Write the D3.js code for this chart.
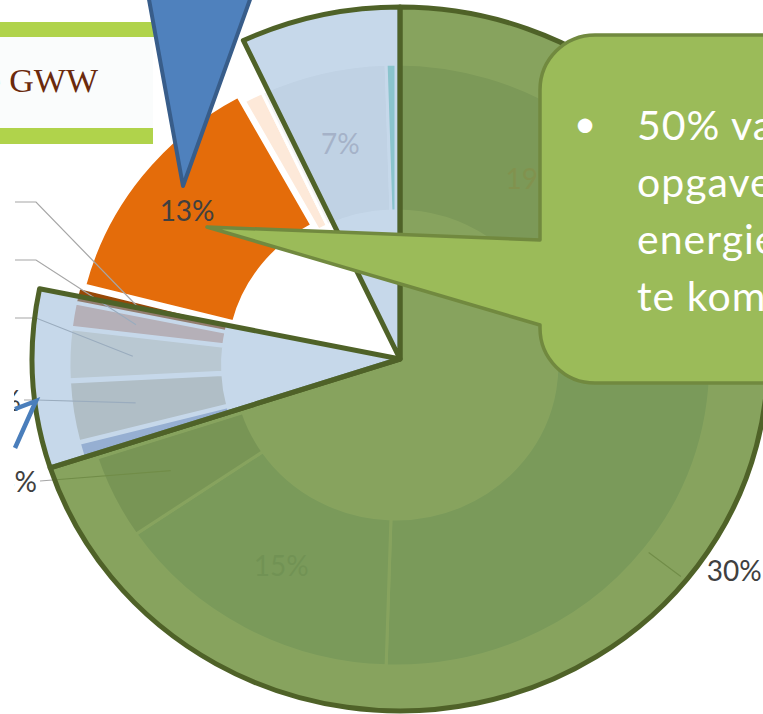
<!DOCTYPE html>
<html>
<head>
<meta charset="utf-8">
<script src="https://cdn.jsdelivr.net/npm/d3@7"></script>
<style>
  body { margin: 0; background: #fff; }
  svg { display: block; }
</style>
</head>
<body>
<div id="app"></div>
<script>
const WIDTH = 763, HEIGHT = 714;

// pie slices, clockwise from 12 o'clock
const sliceNames  = ['A', 'B', 'C', 'D', 'E', 'F', 'G', 'H', 'I', 'J', 'K', 'L', 'M', 'N'];
const sliceValues = [19.5, 1, 30, 15, 4.5, 1, 3.2, 2.7, 1.3, 0.8, 13, 1, 6.5, 0.5];
const sliceLabels = ['19%', '', '30%', '15%', '4%', '', '3%', '3%', '1%', '1%', '13%', '', '7%', ''];
const labelKind   = ['in', '', 'right', 'in', 'left', '', 'left', 'left', 'left', 'left', 'in', '', 'in', ''];

// highlighted parts of the pie (first slice, last slice)
const highlightFrom = ['A', 'F', 'M'];
const highlightTo   = ['E', 'I', 'N'];

const titleText = 'Energie in de GWW';
const calloutLines = ['50% van de', 'opgaven', 'energie', 'te komen'];

// styling
const sliceColors = ['#d3d6e6', '#d8e4bc', '#c9dbf0', '#c9dbf0', '#c4c8dc', '#9fadcf', '#d3cbb7',
                     '#e5dfcf', '#ddaf9b', '#984807', '#e46c0a', '#fde9d9', '#f2f2f2', '#86d6c4'];
const labelColors = ['#e6bcc0', '', '#404040', '#a9bcd6', '#404040', '', '#404040',
                     '#404040', '#404040', '#404040', '#404040', '', '#bdb3bb', ''];
const explode = { F: 12, G: 12, H: 12, I: 12, J: 12, K: 8 };
const leftLabelY   = { E: 481, G: 400, H: 318, I: 260, J: 202 };
const leftLabelEnd = { E: 37, G: 21, H: 12, I: 12, J: 12 };
const highlightFill    = ['#5f8428', '#8db1d5', '#8db1d5'];
const highlightOpacity = [0.75, 0.5, 0.5];

const SX = 1.045;                                   // the slide is stretched sideways
const ring = { cx: 396, cy: 365, r0: 154, r1: 301 };
const hl = { cx: 400, cy: 359, r: 352 };

const svg = d3.select('#app')
  .append('svg')
    .attr('width', WIDTH)
    .attr('height', HEIGHT)
    .style('font-family', 'Lato, "Open Sans", sans-serif');

// point at angle a, radius r, relative to a centre
const pt = (a, r) => [Math.sin(a) * r * SX, -Math.cos(a) * r];
const mid = d => (d.startAngle + d.endAngle) / 2;

// title box
svg.append('rect').attr('x', 0).attr('y', 37).attr('width', 153).attr('height', 91).attr('fill', '#fafcfc');
svg.append('rect').attr('x', 0).attr('y', 22).attr('width', 162).attr('height', 15).attr('fill', '#b0d34b');
svg.append('rect').attr('x', 0).attr('y', 128).attr('width', 153).attr('height', 16).attr('fill', '#b0d34b');
svg.append('text')
  .attr('x', 98).attr('y', 92)
  .attr('text-anchor', 'end')
  .style('font-family', '"Liberation Serif", serif')
  .style('font-size', '34px')
  .attr('fill', '#6b2a0c')
  .text(titleText);

const arcs = d3.pie().sort(null).value(d => d)(sliceValues);
arcs.forEach((d, i) => { d.name = sliceNames[i]; d.i = i; });

const arc = d3.arc().innerRadius(ring.r0).outerRadius(ring.r1);
const offset = d => {
  const e = explode[d.name] || 0;
  return [Math.sin(mid(d)) * e * SX, -Math.cos(mid(d)) * e];
};

// the doughnut
svg.append('g')
    .attr('transform', `translate(${ring.cx},${ring.cy}) scale(${SX},1)`)
  .selectAll('path')
  .data(arcs)
  .enter()
    .append('path')
    .attr('d', arc)
    .attr('transform', d => `translate(${(explode[d.name] || 0) * Math.sin(mid(d))},${-(explode[d.name] || 0) * Math.cos(mid(d))})`)
    .attr('fill', d => sliceColors[d.i])
    .attr('stroke', '#fff')
    .attr('stroke-width', 3)
    .attr('vector-effect', 'non-scaling-stroke');

// leader lines and outside labels on the left
arcs.filter(d => labelKind[d.i] === 'left').forEach(d => {
  const o = offset(d);
  const p = pt(mid(d), 240);
  const sx = ring.cx + p[0] + o[0], sy = ring.cy + p[1] + o[1];
  const y = leftLabelY[d.name], end = leftLabelEnd[d.name];
  const elbow = Math.max(36, end + 3);
  svg.append('polyline')
    .attr('points', [[end + 3, y], [elbow, y], [sx, sy]].map(q => q.join(',')).join(' '))
    .attr('fill', 'none')
    .attr('stroke', '#a6a6a6')
    .attr('stroke-width', 1.2);
  svg.append('text')
    .attr('x', end).attr('y', y)
    .attr('text-anchor', 'end')
    .attr('dominant-baseline', 'central')
    .style('font-size', '28px')
    .attr('fill', labelColors[d.i])
    .text(sliceLabels[d.i]);
});

// leader line and label on the right
arcs.filter(d => labelKind[d.i] === 'right').forEach(d => {
  const a = pt(mid(d), 306), b = pt(mid(d), 345);
  svg.append('line')
    .attr('x1', ring.cx + a[0]).attr('y1', ring.cy + a[1])
    .attr('x2', ring.cx + b[0]).attr('y2', ring.cy + b[1])
    .attr('stroke', '#a6a6a6')
    .attr('stroke-width', 1.2);
  svg.append('text')
    .attr('x', ring.cx + b[0] + 26).attr('y', ring.cy + b[1] - 6)
    .attr('dominant-baseline', 'central')
    .style('font-size', '28px')
    .attr('fill', labelColors[d.i])
    .text(sliceLabels[d.i]);
});

// labels inside the slices
const labelR = d => d.name === 'K' ? 245 : 228;
svg.selectAll('.inlabel')
  .data(arcs.filter(d => labelKind[d.i] === 'in'))
  .enter()
    .append('text')
    .attr('class', 'inlabel')
    .attr('x', d => ring.cx + pt(mid(d), labelR(d))[0] + offset(d)[0])
    .attr('y', d => ring.cy + pt(mid(d), labelR(d))[1] + offset(d)[1])
    .attr('text-anchor', 'middle')
    .attr('dominant-baseline', 'central')
    .style('font-size', '28px')
    .attr('fill', d => labelColors[d.i])
    .text(d => sliceLabels[d.i]);

// highlighted sectors on top of the doughnut
const hlArc = d3.arc().innerRadius(0).outerRadius(hl.r);
const byName = Object.fromEntries(arcs.map(d => [d.name, d]));
const sectors = highlightFrom.map((f, i) => ({
  startAngle: byName[f].startAngle,
  endAngle: byName[highlightTo[i]].endAngle,
  i
}));

svg.append('g')
    .attr('transform', `translate(${hl.cx},${hl.cy}) scale(${SX},1)`)
  .selectAll('path')
  .data(sectors)
  .enter()
    .append('path')
    .attr('d', hlArc)
    .attr('fill', d => highlightFill[d.i])
    .attr('fill-opacity', d => highlightOpacity[d.i])
    .attr('stroke', '#4f6228')
    .attr('stroke-width', 5)
    .attr('stroke-linejoin', 'round')
    .attr('vector-effect', 'non-scaling-stroke');

// white box that cuts off the labels on the left
svg.append('rect').attr('x', 0).attr('y', 150).attr('width', 14).attr('height', HEIGHT - 150).attr('fill', '#fff');

// small blue arrow
svg.append('polyline')
  .attr('points', '15,409 36,401 15,448')
  .attr('fill', 'none')
  .attr('stroke', '#4a7ebb')
  .attr('stroke-width', 4.5)
  .attr('stroke-linejoin', 'miter');

// pointer of the blue callout above
svg.append('path')
  .attr('d', 'M148,-6 L183,186 L252,-6 Z')
  .attr('fill', '#4f81bd')
  .attr('stroke', '#385d8a')
  .attr('stroke-width', 4)
  .attr('stroke-linejoin', 'round');

// green callout
const c = { x: 540, y: 35, x2: 920, y2: 383, r: 55, tip: [207, 227], b1: 240, b2: 325 };
svg.append('path')
  .attr('d', [
    `M${c.x + c.r},${c.y}`, `L${c.x2},${c.y}`, `L${c.x2},${c.y2}`, `L${c.x + c.r},${c.y2}`,
    `A${c.r},${c.r} 0 0 1 ${c.x},${c.y2 - c.r}`, `L${c.x},${c.b2}`,
    `L${c.tip[0]},${c.tip[1]}`, `L${c.x},${c.b1}`,
    `L${c.x},${c.y + c.r}`, `A${c.r},${c.r} 0 0 1 ${c.x + c.r},${c.y}`, 'Z'
  ].join(' '))
  .attr('fill', '#9bbb59')
  .attr('stroke', '#71893f')
  .attr('stroke-width', 3.5)
  .attr('stroke-linejoin', 'round');

svg.append('text')
  .attr('x', 585).attr('y', 137)
  .attr('text-anchor', 'middle')
  .style('font-size', '39px')
  .attr('fill', '#fff')
  .text('•');

svg.selectAll('.callout')
  .data(calloutLines)
  .enter()
    .append('text')
    .attr('class', 'callout')
    .attr('x', 637)
    .attr('y', (d, i) => 140 + i * 57)
    .style('font-size', '41px')
    .style('letter-spacing', '1px')
    .attr('fill', '#fff')
    .text(d => d);
</script>
</body>
</html>
